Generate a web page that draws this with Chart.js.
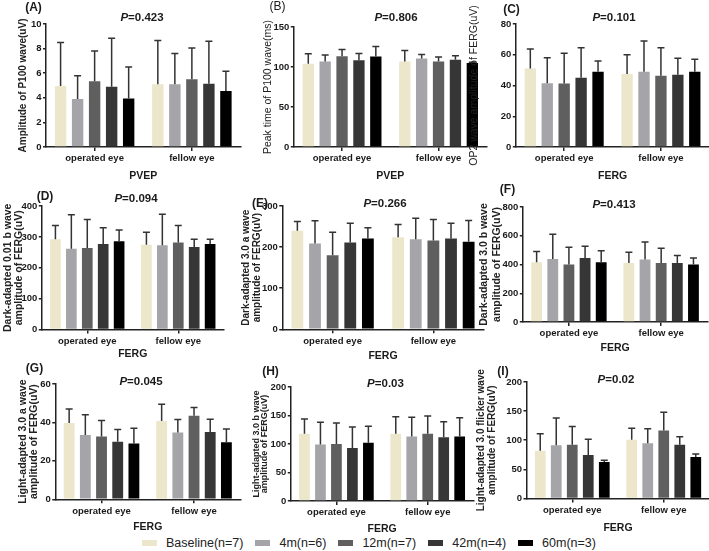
<!DOCTYPE html>
<html>
<head>
<meta charset="utf-8">
<script src="https://cdn.jsdelivr.net/npm/chart.js@4.4.1/dist/chart.umd.min.js"></script>
<style>
  html, body { margin: 0; padding: 0; background: #fff; }
  body { width: 709px; height: 551px; position: relative; overflow: hidden; font-family: "Liberation Sans", Arial, sans-serif; color: #1a1a1a; }
  .panel { position: absolute; }
  .tag { position: absolute; transform: translate(-50%, -50%); font-size: 12px; font-weight: bold; white-space: nowrap; }
  .pval { position: absolute; transform: translate(-50%, -50%); font-size: 11.5px; font-weight: bold; white-space: nowrap; }
  #legend { position: absolute; left: 142px; top: 536px; display: flex; align-items: center; font-size: 12.5px; color: #222; }
  #legend .item { display: flex; align-items: center; margin-right: 12px; }
  #legend .sw { width: 15px; height: 6px; margin-right: 9px; }
</style>
</head>
<body>
<div id="legend"></div>
<script>
// ---------- data ----------
const groups = ['operated eye', 'fellow eye'];
const series = ['Baseline(n=7)', '4m(n=6)', '12m(n=7)', '42m(n=4)', '60m(n=3)'];
const seriesColors = ['#ece6cb', '#a4a4a9', '#5f5f5f', '#363636', '#000000'];

// (A) amplitude of P100, PVEP
const p100AmpMean = [[4.95, 3.9, 5.35, 4.9, 3.95], [5.1, 5.1, 5.5, 5.15, 4.55]];
const p100AmpSd   = [[3.55, 1.9, 2.45, 3.95, 2.55], [3.55, 2.5, 2.55, 3.45, 1.6]];
const p100AmpTicks = [0, 2, 4, 6, 8, 10];

// (B) peak time of P100, PVEP
const p100TimeMean = [[104, 107, 113.5, 108.5, 113], [107, 110.5, 107, 109, 105]];
const p100TimeSd   = [[12.5, 8, 8.5, 8.5, 12.5], [13.5, 5, 5.5, 5, 1]];
const p100TimeTicks = [0, 50, 100, 150];

// (C) OP2 amplitude, FERG
const op2Mean = [[51, 41.5, 41.3, 45, 49], [47.5, 49, 46.3, 47, 49]];
const op2Sd   = [[12.7, 16.5, 19.7, 19.5, 7], [12.5, 20, 18.2, 10.7, 8]];
const op2Ticks = [0, 20, 40, 60, 80];

// (D) dark-adapted 0.01 b wave
const da001bMean = [[292, 262, 264, 277, 286], [275, 273, 282, 267, 277]];
const da001bSd   = [[45, 110, 92, 53, 36], [40, 100, 55, 25, 15]];
const da001bTicks = [0, 100, 200, 300, 400];

// (E) dark-adapted 3.0 a wave
const da3aMean = [[240, 209, 180, 211, 221], [224, 219, 216, 221, 213]];
const da3aSd   = [[22, 55, 56, 47, 26], [31, 51, 51, 37, 52]];
const da3aTicks = [0, 100, 200, 300];

// (F) dark-adapted 3.0 b wave
const da3bMean = [[415, 438, 400, 445, 415], [410, 435, 410, 410, 400]];
const da3bSd   = [[75, 172, 120, 82, 80], [75, 122, 103, 52, 45]];
const da3bTicks = [0, 200, 400, 600, 800];

// (G) light-adapted 3.0 a wave
const la3aMean = [[39.7, 33.5, 32.7, 30, 29], [40.8, 34.7, 43.5, 35, 29.7]];
const la3aSd   = [[7.3, 10.5, 8.3, 6.3, 8], [8.6, 6.8, 4.3, 6.6, 6.9]];
const la3aTicks = [0, 20, 40, 60];

// (H) light-adapted 3.0 b wave
const la3bMean = [[118, 99, 100, 93, 102], [118, 113, 118, 112, 113]];
const la3bSd   = [[26, 39, 37, 37, 29], [30, 34, 31, 27, 33]];
const la3bTicks = [0, 50, 100, 150, 200];

// (I) light-adapted 3.0 flicker
const flickerMean = [[82, 91.4, 92, 74.7, 62.6], [100.6, 94.8, 116.7, 92, 71]];
const flickerSd   = [[29, 46.6, 31.6, 27, 2.9], [20.1, 24.7, 31.3, 14, 5.4]];
const flickerTicks = [0, 50, 100, 150, 200];

// ---------- panels ----------
const FONT = '"Liberation Sans", Arial, sans-serif';
const panels = [
  { tag: '(A)', p: '0.423', mean: p100AmpMean, sd: p100AmpSd, ticks: p100AmpTicks, xTitle: 'PVEP',
    yTitle: 'Amplitude of P100 wave(uV)', yFont: 10, yBold: true, yLine: 1.2, titleX: 23, x0: 46, x1: 240.5, yTop: 24, yBot: 147, xTitleY: 176,
    tagPos: [33.5, 7], pPos: [142, 16.5] },
  { tag: '(B)', tagBold: false, p: '0.806', mean: p100TimeMean, sd: p100TimeSd, ticks: p100TimeTicks, xTitle: 'PVEP',
    yTitle: 'Peak time of P100 wave(ms)', yFont: 10.5, yBold: false, yLine: 1.2, titleX: 268.5, x0: 294, x1: 487, yTop: 27, yBot: 147, xTitleY: 176,
    tagPos: [277.5, 5.5], pPos: [396, 17] },
  { tag: '(C)', p: '0.101', mean: op2Mean, sd: op2Sd, ticks: op2Ticks, xTitle: 'FERG',
    yTitle: 'OP2 wave amplitude of FERG(uV)', yFont: 10.5, yBold: false, yLine: 1.2, titleX: 474.5, x0: 516, x1: 709.5, yTop: 24, yBot: 147, xTitleY: 176,
    tagPos: [511.5, 8.5], pPos: [614, 17] },
  { tag: '(D)', p: '0.094', mean: da001bMean, sd: da001bSd, ticks: da001bTicks, xTitle: 'FERG',
    yTitle: ['Dark-adapted 0.01 b wave', 'amplitude of FERG(uV)'], yFont: 10.5, yBold: true, yLine: 1.1, titleX: 7.5, x0: 41.5, x1: 223.5, yTop: 205.7, yBot: 329.3, xTitleY: 354,
    tagPos: [45, 195.5], pPos: [136, 197.5] },
  { tag: '(E)', p: '0.266', mean: da3aMean, sd: da3aSd, ticks: da3aTicks, xTitle: 'FERG',
    yTitle: ['Dark-adapted 3.0 a wave', 'amplitude of FERG(uV)'], yFont: 10, yBold: true, yLine: 1.15, titleX: 246, x0: 282.5, x1: 484, yTop: 206, yBot: 329.3, xTitleY: 356,
    tagPos: [260, 203], pPos: [385, 203] },
  { tag: '(F)', p: '0.413', mean: da3bMean, sd: da3bSd, ticks: da3bTicks, xTitle: 'FERG',
    yTitle: ['Dark-adapted 3.0 b wave', 'amplitude of FERG(uV)'], yFont: 10.5, yBold: true, yLine: 1.2, titleX: 484, x0: 522.5, x1: 707, yTop: 206.7, yBot: 321.7, xTitleY: 348,
    tagPos: [507.5, 189], pPos: [614, 204] },
  { tag: '(G)', p: '0.045', mean: la3aMean, sd: la3aSd, ticks: la3aTicks, xTitle: 'FERG',
    yTitle: ['Light-adapted 3.0 a wave', 'amplitude of FERG(uV)'], yFont: 10.5, yBold: true, yLine: 1.1, titleX: 22.5, x0: 55, x1: 240, yTop: 384, yBot: 499.3, xTitleY: 527,
    tagPos: [34.5, 368], pPos: [141, 381] },
  { tag: '(H)', p: '0.03', mean: la3bMean, sd: la3bSd, ticks: la3bTicks, xTitle: 'FERG',
    yTitle: ['Light-adapted 3.0 b wave', 'amplitude of FERG(uV)'], yFont: 9, yBold: true, yLine: 0.95, titleX: 256.5, x0: 291, x1: 473.6, yTop: 386.7, yBot: 500.7, xTitleY: 528.5,
    tagPos: [270.5, 370.5], pPos: [385.5, 383] },
  { tag: '(I)', p: '0.02', mean: flickerMean, sd: flickerSd, ticks: flickerTicks, xTitle: 'FERG',
    yTitle: ['Light-adapted 3.0 flicker wave', 'amplitude of FERG(uV)'], yFont: 10, yBold: true, yLine: 1.1, titleX: 481, x0: 526, x1: 709, yTop: 382.3, yBot: 498.7, xTitleY: 528,
    tagPos: [503, 370.5], pPos: [616, 379] }
];

// error bars (mean + SD, upper only)
const errorBars = {
  id: 'errorBars',
  afterDatasetsDraw(chart) {
    const ctx = chart.ctx;
    const y = chart.scales.y;
    chart.data.datasets.forEach((ds, i) => {
      chart.getDatasetMeta(i).data.forEach((bar, j) => {
        const top = y.getPixelForValue(ds.data[j] + ds.sd[j]);
        ctx.save();
        ctx.strokeStyle = '#333';
        ctx.lineWidth = 1.5;
        ctx.beginPath();
        ctx.moveTo(bar.x, bar.y);
        ctx.lineTo(bar.x, top);
        ctx.moveTo(bar.x - 3.5, top);
        ctx.lineTo(bar.x + 3.5, top);
        ctx.stroke();
        ctx.restore();
      });
    });
  }
};

const X_TITLE_SIZE = 10.5;
const TOP_ROOM = 24;

panels.forEach(p => {
  const yLh = p.yFont * p.yLine;
  const xLh = X_TITLE_SIZE * 1.2;
  const L = p.titleX - yLh / 2;
  const T = p.yTop - TOP_ROOM;
  const W = Math.ceil(p.x1 - L + 2);
  const H = Math.ceil(p.xTitleY + xLh / 2 + 2 - T);
  const padR = W - (p.x1 - L);
  const padB = H - (p.xTitleY + xLh / 2 - T);

  const canvas = document.createElement('canvas');
  canvas.className = 'panel';
  canvas.width = W;
  canvas.height = H;
  canvas.style.left = L + 'px';
  canvas.style.top = T + 'px';
  canvas.style.width = W + 'px';
  canvas.style.height = H + 'px';
  document.body.appendChild(canvas);

  const axisLine = { display: true, color: '#222', width: 1.5 };
  new Chart(canvas, {
    type: 'bar',
    data: {
      labels: groups,
      datasets: series.map((s, i) => ({
        label: s,
        data: p.mean.map(g => g[i]),
        sd: p.sd.map(g => g[i]),
        backgroundColor: seriesColors[i],
        borderWidth: 0,
        categoryPercentage: 0.875,
        barPercentage: 0.67
      }))
    },
    options: {
      responsive: false,
      animation: false,
      devicePixelRatio: 1,
      layout: { padding: { top: TOP_ROOM, right: padR, bottom: padB, left: 0 } },
      plugins: { legend: { display: false }, tooltip: { enabled: false } },
      scales: {
        x: {
          border: axisLine,
          grid: { drawOnChartArea: false, drawTicks: true, tickLength: 4, offset: false, color: '#222', lineWidth: 1.5 },
          ticks: { color: '#1a1a1a', padding: 2, font: { family: FONT, size: 9.5, weight: 'bold' } },
          title: { display: true, text: p.xTitle, color: '#1a1a1a', padding: 0, font: { family: FONT, size: X_TITLE_SIZE, weight: 'bold' } },
          afterFit: s => { s.height = p.xTitleY + xLh / 2 - p.yBot; }
        },
        y: {
          min: p.ticks[0],
          max: p.ticks[p.ticks.length - 1],
          border: axisLine,
          grid: { drawOnChartArea: false, drawTicks: true, tickLength: 3, color: '#222', lineWidth: 1.5 },
          afterBuildTicks: s => { s.ticks = p.ticks.map(v => ({ value: v })); },
          ticks: { color: '#1a1a1a', padding: 1.5, font: { family: FONT, size: 9.5, weight: 'bold' } },
          title: {
            display: true, text: p.yTitle, color: '#222', padding: 0,
            font: { family: FONT, size: p.yFont, weight: p.yBold ? 'bold' : 'normal', lineHeight: p.yLine }
          },
          afterFit: s => { s.width = p.x0 - L; }
        }
      }
    },
    plugins: [errorBars]
  });

  const tag = document.createElement('div');
  tag.className = 'tag';
  tag.textContent = p.tag;
  if (p.tagBold === false) tag.style.fontWeight = 'normal';
  tag.style.left = p.tagPos[0] + 'px';
  tag.style.top = p.tagPos[1] + 'px';
  document.body.appendChild(tag);

  const pv = document.createElement('div');
  pv.className = 'pval';
  pv.innerHTML = '<i>P</i>=' + p.p;
  pv.style.left = p.pPos[0] + 'px';
  pv.style.top = p.pPos[1] + 'px';
  document.body.appendChild(pv);
});

// shared legend
const legend = document.getElementById('legend');
series.forEach((s, i) => {
  const item = document.createElement('div');
  item.className = 'item';
  item.innerHTML = '<span class="sw" style="background:' + seriesColors[i] + '"></span><span>' + s + '</span>';
  legend.appendChild(item);
});
</script>
</body>
</html>
